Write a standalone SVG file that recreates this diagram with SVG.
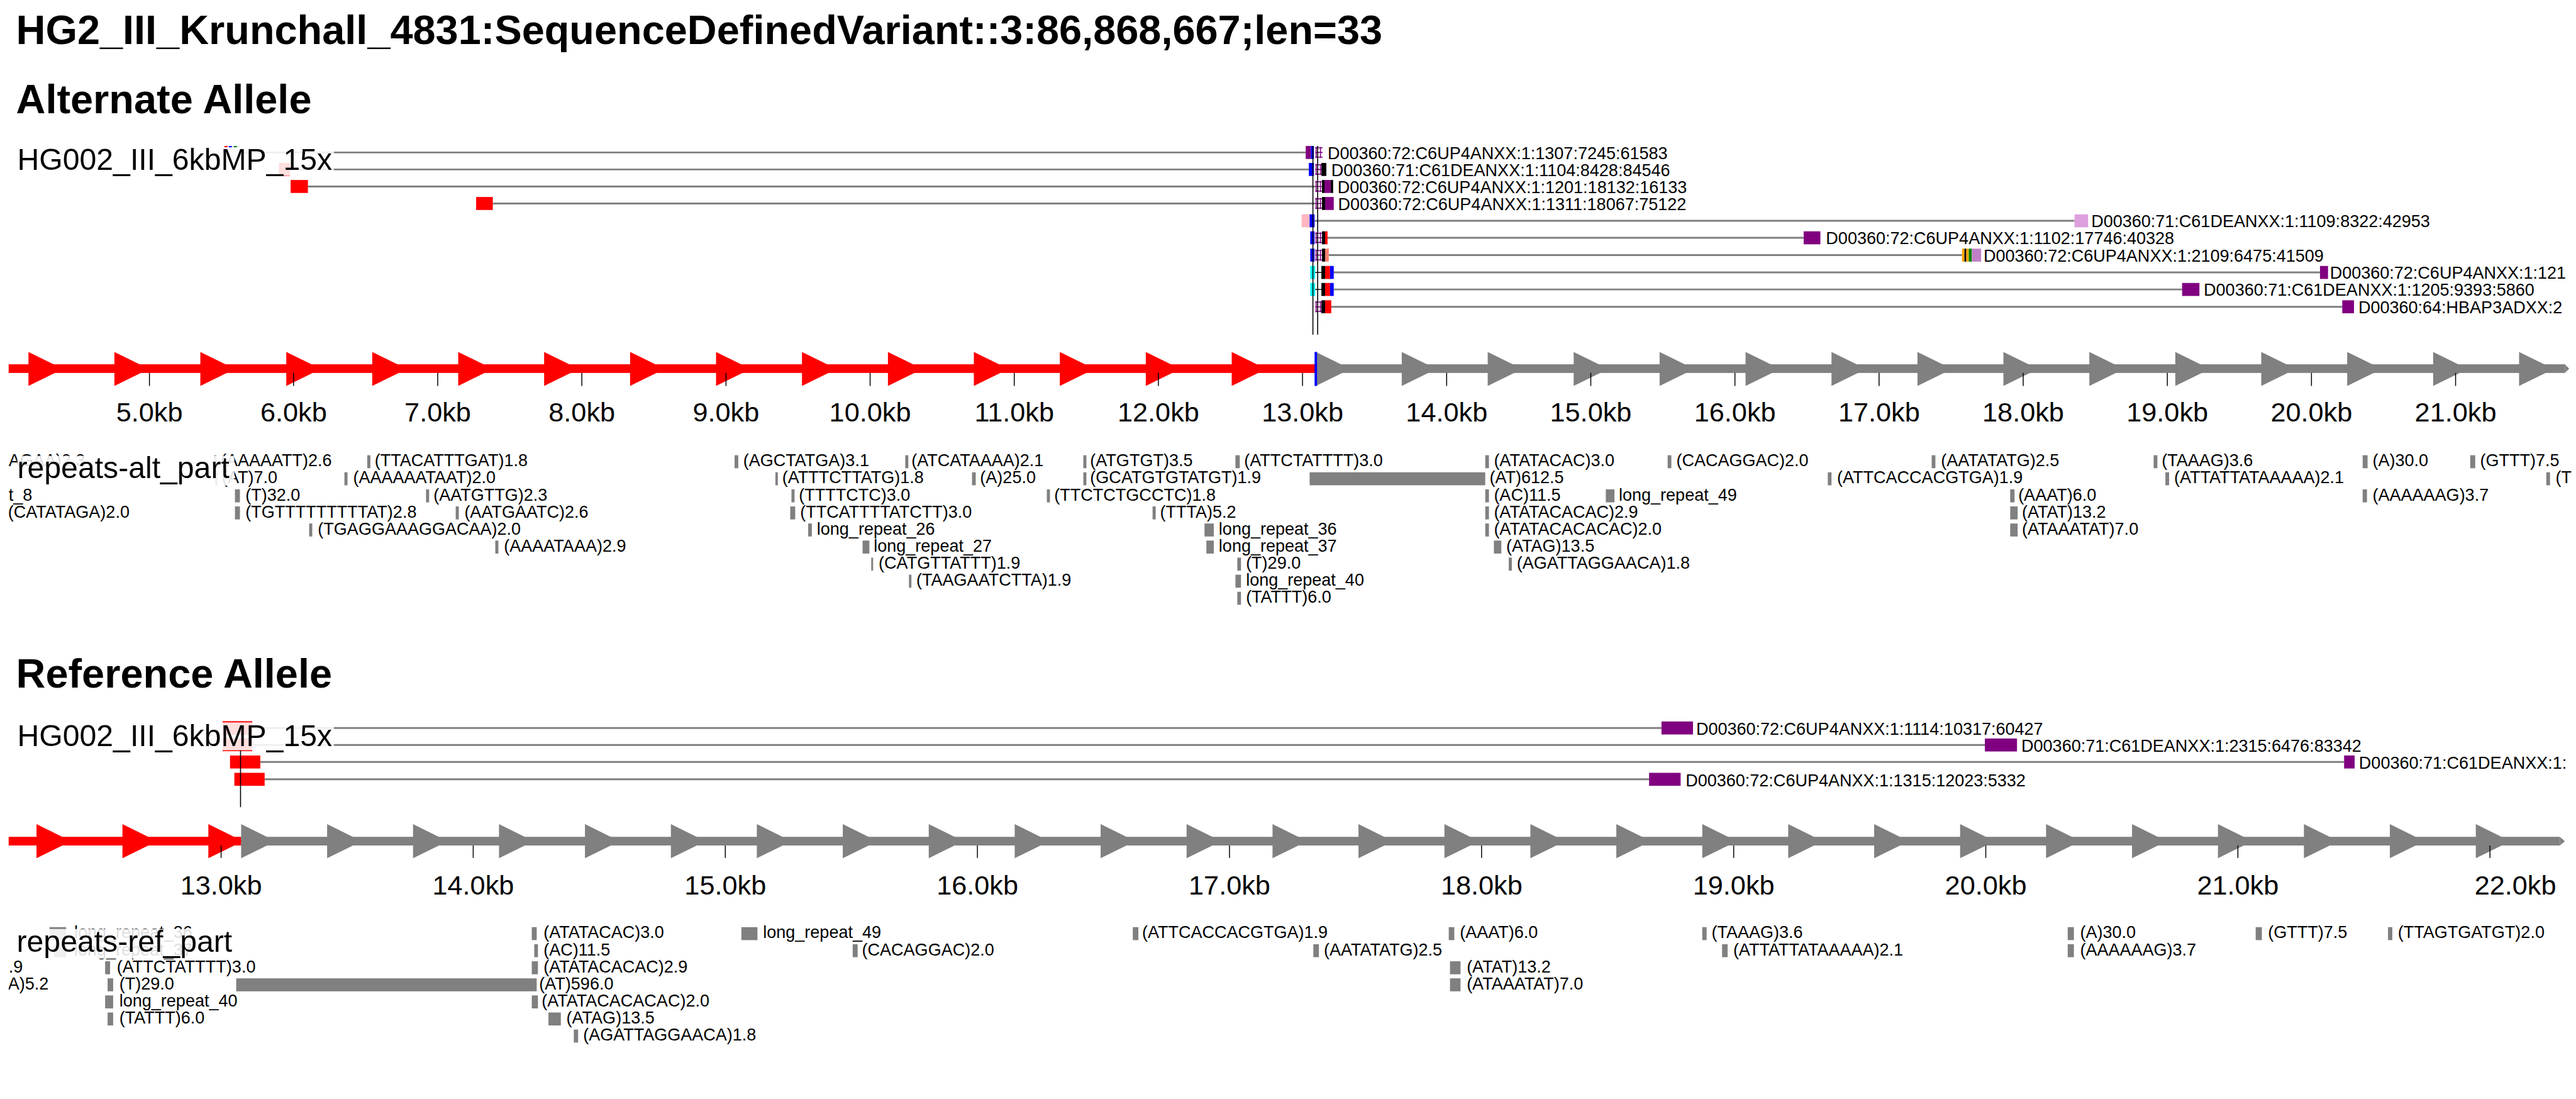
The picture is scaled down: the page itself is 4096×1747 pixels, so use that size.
<svg xmlns="http://www.w3.org/2000/svg" width="4096" height="1747" viewBox="0 0 4096 1747">
<defs>
<style>
text{font-family:"Liberation Sans",Arial,Helvetica,sans-serif;fill:#000}
.h{font-size:66px;font-weight:bold}
.lb{font-size:49px}
.s{font-size:27.5px}
.ax{font-size:44px;text-anchor:middle}
.ln{stroke:#808080;stroke-width:3;fill:none}
.rb{fill:#808080}
.tk{stroke:#000;stroke-width:1.5}
.vl{stroke:#000;stroke-width:1.6}
.bg{fill:#fff;fill-opacity:0.87}
.pu{fill:#800080}.bl{fill:#0000ff}.rd{fill:#ff0000}.bk{fill:#000}.cy{fill:#00ffff}
.red{fill:#ff0000}.gry{fill:#808080}
</style>
<g id="ins" fill="none" stroke="#800080" stroke-width="1.6"><path d="M1.5,-9V9M8.5,-9V9M0,-7.5H12M0,0H12M0,7.5H12"/></g>
<polygon id="tri" points="0,-27.5 56,0 0,27.5"/>
<clipPath id="clip"><rect x="14" y="0" width="4152" height="1777"/></clipPath>
</defs>
<g transform="scale(0.98319)">
<rect width="4166" height="1777" fill="#fff"/>
<g id="title"><text class="h" x="26" y="71">HG2_III_Krunchall_4831:SequenceDefinedVariant::3:86,868,667;len=33</text></g>

<!-- ================= ALTERNATE ================= -->
<g id="alt-header"><text class="h" x="26" y="183">Alternate Allele</text></g>

<g id="connectors">
<g id="alt-read-lines" class="ln">
<path d="M388,246.5H2112"/>
<path d="M469,274H2117"/>
<path d="M498,301.5H2127"/>
<path d="M797,329H2127"/>
<path d="M2126,357H3355"/>
<path d="M2147,384.5H2917"/>
<path d="M2149,412.5H3173"/>
<path d="M2157,440.5H3752"/>
<path d="M2157,468H3529"/>
<path d="M2153,496H3788"/>
</g>
<g id="ref-read-lines" class="ln">
<path d="M408,1177H2687"/>
<path d="M408,1204.5H3210"/>
<path d="M421,1232H3791"/>
<path d="M428,1260H2667"/>
</g>
</g>

<g id="alt-reads">
<g id="alt-read-1">
<rect x="362" y="236" width="26" height="21" fill="#e8e8e8"/>
<rect x="363" y="236" width="5" height="3" class="rd"/><rect x="370" y="236" width="5" height="3" class="bl"/><rect x="378" y="236" width="5" height="3" fill="#008000"/>
<rect x="2111.7" y="236" width="8.3" height="21" class="pu"/><rect x="2120" y="236" width="5" height="21" class="bl"/>
<use href="#ins" x="2127" y="246.5"/>
<text class="s" x="2147" y="257">D00360:72:C6UP4ANXX:1:1307:7245:61583</text>
</g>
<g id="alt-read-2">
<rect x="451" y="263.5" width="18" height="21" class="rd"/>
<rect x="2116.7" y="263.5" width="8.3" height="21" class="bl"/>
<use href="#ins" x="2127" y="274"/>
<rect x="2137" y="263.5" width="8" height="21" class="bk"/>
<text class="s" x="2153" y="284.5">D00360:71:C61DEANXX:1:1104:8428:84546</text>
</g>
<g id="alt-read-3">
<rect x="470" y="291" width="28" height="21" class="rd"/>
<use href="#ins" x="2127" y="301.5"/>
<rect x="2138" y="291" width="4" height="21" class="bk"/><rect x="2142" y="291" width="10" height="21" class="pu"/><rect x="2152" y="291" width="4" height="21" class="bk"/>
<text class="s" x="2163" y="312">D00360:72:C6UP4ANXX:1:1201:18132:16133</text>
</g>
<g id="alt-read-4">
<rect x="770" y="318.5" width="27" height="21" class="rd"/>
<use href="#ins" x="2127" y="329"/>
<rect x="2138" y="318.5" width="5" height="21" class="bk"/><rect x="2143" y="318.5" width="14" height="21" class="pu"/>
<text class="s" x="2164" y="339.5">D00360:72:C6UP4ANXX:1:1311:18067:75122</text>
</g>
<g id="alt-read-5">
<rect x="2105" y="346.5" width="13" height="21" fill="#ffb6c1"/><rect x="2118" y="346.5" width="8" height="21" class="bl"/>
<rect x="3355" y="346.5" width="22" height="21" fill="#dda0dd"/>
<text class="s" x="3382" y="367.5">D00360:71:C61DEANXX:1:1109:8322:42953</text>
</g>
<g id="alt-read-6">
<rect x="2119" y="374" width="7" height="21" class="bl"/>
<use href="#ins" x="2127" y="384.5"/>
<rect x="2138" y="374" width="5" height="21" class="bk"/><rect x="2143" y="374" width="4" height="21" class="rd"/>
<rect x="2917" y="374" width="27" height="21" class="pu"/>
<text class="s" x="2953" y="395">D00360:72:C6UP4ANXX:1:1102:17746:40328</text>
</g>
<g id="alt-read-7">
<rect x="2119" y="402" width="7" height="21" class="bl"/>
<use href="#ins" x="2127" y="412.5"/>
<rect x="2138" y="402" width="5" height="21" class="bk"/><rect x="2143" y="402" width="6" height="21" fill="#fa8072"/>
<rect x="3173" y="402" width="4" height="21" fill="#ffa500"/><rect x="3177" y="402" width="3" height="21" class="bk"/><rect x="3180" y="402" width="4" height="21" fill="#ffa500"/><rect x="3184" y="402" width="5" height="21" fill="#008000"/><rect x="3189" y="402" width="15" height="21" fill="#c080c8"/>
<text class="s" x="3208" y="423">D00360:72:C6UP4ANXX:1:2109:6475:41509</text>
</g>
<g id="alt-read-8">
<rect x="2119" y="430" width="8" height="21" class="cy"/>
<path d="M2127,440.5H2137" class="tk"/>
<rect x="2137" y="430" width="6" height="21" class="bk"/><rect x="2143" y="430" width="8" height="21" class="rd"/><rect x="2151" y="430" width="6" height="21" class="bl"/>
<rect x="3752" y="430" width="13" height="21" class="pu"/>
<text class="s" x="3768" y="451">D00360:72:C6UP4ANXX:1:121</text>
</g>
<g id="alt-read-9">
<rect x="2119" y="457.5" width="8" height="21" class="cy"/>
<path d="M2127,468H2137" class="tk"/>
<rect x="2137" y="457.5" width="6" height="21" class="bk"/><rect x="2143" y="457.5" width="8" height="21" class="rd"/><rect x="2151" y="457.5" width="6" height="21" class="bl"/>
<rect x="3529" y="457.5" width="28" height="21" class="pu"/>
<text class="s" x="3564" y="478.5">D00360:71:C61DEANXX:1:1205:9393:5860</text>
</g>
<g id="alt-read-10">
<use href="#ins" x="2127" y="496"/>
<rect x="2137" y="485.5" width="6" height="21" class="bk"/><rect x="2143" y="485.5" width="10" height="21" class="rd"/>
<rect x="3788" y="485.5" width="19" height="21" class="pu"/>
<text class="s" x="3814" y="506.5">D00360:64:HBAP3ADXX:2</text>
</g>
<g id="alt-variant-lines">
<path d="M2123.3,236V541M2131,236V541" class="vl"/>
</g>
</g>

<g id="alt-track-label">
<rect x="28" y="238" width="512" height="46" class="bg"/>
<text class="lb" x="28" y="275">HG002_III_6kbMP_15x</text>
</g>

<g id="alt-axis">
<rect x="14" y="589" width="2114" height="14" class="red"/>
<rect x="2128" y="589" width="2020" height="14" class="gry"/>
<polygon points="4148,589 4155,596 4148,603" class="gry"/>
<g class="red">
<use href="#tri" x="46" y="596.5"/><use href="#tri" x="185" y="596.5"/><use href="#tri" x="324" y="596.5"/><use href="#tri" x="463" y="596.5"/><use href="#tri" x="602" y="596.5"/><use href="#tri" x="741" y="596.5"/><use href="#tri" x="880" y="596.5"/><use href="#tri" x="1019" y="596.5"/><use href="#tri" x="1158" y="596.5"/><use href="#tri" x="1297" y="596.5"/><use href="#tri" x="1436" y="596.5"/><use href="#tri" x="1575" y="596.5"/><use href="#tri" x="1714" y="596.5"/><use href="#tri" x="1853" y="596.5"/><use href="#tri" x="1992" y="596.5"/>
</g>
<g class="gry">
<use href="#tri" x="2128" y="596.5"/><use href="#tri" x="2267" y="596.5"/><use href="#tri" x="2406" y="596.5"/><use href="#tri" x="2545" y="596.5"/><use href="#tri" x="2684" y="596.5"/><use href="#tri" x="2823" y="596.5"/><use href="#tri" x="2962" y="596.5"/><use href="#tri" x="3101" y="596.5"/><use href="#tri" x="3240" y="596.5"/><use href="#tri" x="3379" y="596.5"/><use href="#tri" x="3518" y="596.5"/><use href="#tri" x="3657" y="596.5"/><use href="#tri" x="3796" y="596.5"/><use href="#tri" x="3935" y="596.5"/><use href="#tri" x="4074" y="596.5"/>
</g>
<rect x="2126" y="569" width="4" height="55" class="bl"/>
<path class="tk" d="M241.7,603V624M474.8,603V624M707.9,603V624M941,603V624M1174.1,603V624M1407.2,603V624M1640.3,603V624M1873.4,603V624M2106.5,603V624M2339.6,603V624M2572.7,603V624M2805.8,603V624M3038.9,603V624M3272,603V624M3505.1,603V624M3738.2,603V624M3971.3,603V624"/>
<text class="ax" x="241.7" y="681">5.0kb</text><text class="ax" x="474.8" y="681">6.0kb</text><text class="ax" x="707.9" y="681">7.0kb</text><text class="ax" x="941" y="681">8.0kb</text><text class="ax" x="1174.1" y="681">9.0kb</text><text class="ax" x="1407.2" y="681">10.0kb</text><text class="ax" x="1640.3" y="681">11.0kb</text><text class="ax" x="1873.4" y="681">12.0kb</text><text class="ax" x="2106.5" y="681">13.0kb</text><text class="ax" x="2339.6" y="681">14.0kb</text><text class="ax" x="2572.7" y="681">15.0kb</text><text class="ax" x="2805.8" y="681">16.0kb</text><text class="ax" x="3038.9" y="681">17.0kb</text><text class="ax" x="3272" y="681">18.0kb</text><text class="ax" x="3505.1" y="681">19.0kb</text><text class="ax" x="3738.2" y="681">20.0kb</text><text class="ax" x="3971.3" y="681">21.0kb</text>
</g>

<g id="alt-repeats" clip-path="url(#clip)">
<g class="rb">
<rect x="346" y="736" width="4" height="21"/><rect x="594" y="736" width="5" height="21"/><rect x="1188" y="736" width="6" height="21"/><rect x="1464" y="736" width="5" height="21"/><rect x="1752" y="736" width="5" height="21"/><rect x="1998" y="736" width="7" height="21"/><rect x="2402" y="736" width="6" height="21"/><rect x="2697" y="736" width="6" height="21"/><rect x="3124" y="736" width="6" height="21"/><rect x="3483" y="736" width="6" height="21"/><rect x="3821" y="736" width="8" height="21"/><rect x="3995" y="736" width="8" height="21"/>
<rect x="348" y="763.6" width="4" height="21"/><rect x="557" y="763.6" width="5" height="21"/><rect x="1254" y="763.6" width="4" height="21"/><rect x="1572" y="763.6" width="6" height="21"/><rect x="1752" y="763.6" width="5" height="21"/><rect x="2118" y="763.6" width="284" height="21"/><rect x="2956" y="763.6" width="6" height="21"/><rect x="3502" y="763.6" width="6" height="21"/><rect x="4118" y="763.6" width="6" height="21"/>
<rect x="380" y="791.2" width="8" height="21"/><rect x="689" y="791.2" width="5" height="21"/><rect x="1280" y="791.2" width="5" height="21"/><rect x="1693" y="791.2" width="5" height="21"/><rect x="2402" y="791.2" width="6" height="21"/><rect x="2597" y="791.2" width="14" height="21"/><rect x="3251" y="791.2" width="7" height="21"/><rect x="3821" y="791.2" width="7" height="21"/>
<rect x="380" y="818.8" width="8" height="21"/><rect x="737" y="818.8" width="5" height="21"/><rect x="1278" y="818.8" width="8" height="21"/><rect x="1864" y="818.8" width="5" height="21"/><rect x="2402" y="818.8" width="6" height="21"/><rect x="3251" y="818.8" width="12" height="21"/>
<rect x="500" y="846.4" width="5" height="21"/><rect x="1307" y="846.4" width="6" height="21"/><rect x="1948" y="846.4" width="15" height="21"/><rect x="2402" y="846.4" width="6" height="21"/><rect x="3251" y="846.4" width="12" height="21"/>
<rect x="801" y="874" width="5" height="21"/><rect x="1395" y="874" width="11" height="21"/><rect x="1951" y="874" width="12" height="21"/><rect x="2416" y="874" width="12" height="21"/>
<rect x="1409" y="901.6" width="3" height="21"/><rect x="2001" y="901.6" width="6" height="21"/><rect x="2440" y="901.6" width="5" height="21"/>
<rect x="1470" y="929.2" width="4" height="21"/><rect x="1998" y="929.2" width="9" height="21"/>
<rect x="2001" y="956.8" width="6" height="21"/>
</g>
<g class="s-row">
<text class="s" x="14" y="754">AGAA)2.3</text>
<text class="s" x="357" y="754">(AAAAATT)2.6</text><text class="s" x="606" y="754">(TTACATTTGAT)1.8</text><text class="s" x="1202" y="754">(AGCTATGA)3.1</text><text class="s" x="1474" y="754">(ATCATAAAA)2.1</text><text class="s" x="1763" y="754">(ATGTGT)3.5</text><text class="s" x="2012" y="754">(ATTCTATTTT)3.0</text><text class="s" x="2416" y="754">(ATATACAC)3.0</text><text class="s" x="2711" y="754">(CACAGGAC)2.0</text><text class="s" x="3139" y="754">(AATATATG)2.5</text><text class="s" x="3496" y="754">(TAAAG)3.6</text><text class="s" x="3837" y="754">(A)30.0</text><text class="s" x="4011" y="754">(GTTT)7.5</text>
<text class="s" x="359" y="781.6">(AT)7.0</text><text class="s" x="571" y="781.6">(AAAAAATAAT)2.0</text><text class="s" x="1265" y="781.6">(ATTTCTTATG)1.8</text><text class="s" x="1585" y="781.6">(A)25.0</text><text class="s" x="1763" y="781.6">(GCATGTGTATGT)1.9</text><text class="s" x="2409" y="781.6">(AT)612.5</text><text class="s" x="2971" y="781.6">(ATTCACCACGTGA)1.9</text><text class="s" x="3516" y="781.6">(ATTATTATAAAAA)2.1</text><text class="s" x="4133" y="781.6">(T</text>
<text class="s" x="14" y="809.2">t_8</text><text class="s" x="397" y="809.2">(T)32.0</text><text class="s" x="701" y="809.2">(AATGTTG)2.3</text><text class="s" x="1292" y="809.2">(TTTTCTC)3.0</text><text class="s" x="1705" y="809.2">(TTCTCTGCCTC)1.8</text><text class="s" x="2416" y="809.2">(AC)11.5</text><text class="s" x="2618" y="809.2">long_repeat_49</text><text class="s" x="3264" y="809.2">(AAAT)6.0</text><text class="s" x="3837" y="809.2">(AAAAAAG)3.7</text>
<text class="s" x="13" y="836.8">(CATATAGA)2.0</text><text class="s" x="397" y="836.8">(TGTTTTTTTTTAT)2.8</text><text class="s" x="751" y="836.8">(AATGAATC)2.6</text><text class="s" x="1294" y="836.8">(TTCATTTTATCTT)3.0</text><text class="s" x="1876" y="836.8">(TTTA)5.2</text><text class="s" x="2416" y="836.8">(ATATACACAC)2.9</text><text class="s" x="3270" y="836.8">(ATAT)13.2</text>
<text class="s" x="514" y="864.4">(TGAGGAAAGGACAA)2.0</text><text class="s" x="1321" y="864.4">long_repeat_26</text><text class="s" x="1971" y="864.4">long_repeat_36</text><text class="s" x="2416" y="864.4">(ATATACACACAC)2.0</text><text class="s" x="3270" y="864.4">(ATAAATAT)7.0</text>
<text class="s" x="815" y="892">(AAAATAAA)2.9</text><text class="s" x="1413" y="892">long_repeat_27</text><text class="s" x="1971" y="892">long_repeat_37</text><text class="s" x="2436" y="892">(ATAG)13.5</text>
<text class="s" x="1421" y="919.6">(CATGTTATTT)1.9</text><text class="s" x="2015" y="919.6">(T)29.0</text><text class="s" x="2453" y="919.6">(AGATTAGGAACA)1.8</text>
<text class="s" x="1482" y="947.2">(TAAGAATCTTA)1.9</text><text class="s" x="2015" y="947.2">long_repeat_40</text>
<text class="s" x="2015" y="974.8">(TATTT)6.0</text>
</g>
</g>
<g id="alt-repeats-label">
<rect x="28" y="737" width="351" height="48" class="bg"/>
<text class="lb" x="28" y="773">repeats-alt_part</text>
</g>

<!-- ================= REFERENCE ================= -->
<g id="ref-header"><text class="h" x="26" y="1112">Reference Allele</text></g>

<g id="ref-reads">
<g id="ref-read-1">
<rect x="360" y="1166" width="48" height="22" class="rd"/>
<rect x="2687" y="1166.5" width="51" height="21" class="pu"/>
<text class="s" x="2743" y="1188">D00360:72:C6UP4ANXX:1:1114:10317:60427</text>
</g>
<g id="ref-read-2">
<rect x="360" y="1193.5" width="48" height="21" class="rd"/>
<rect x="3210" y="1194" width="52" height="21" class="pu"/>
<text class="s" x="3269" y="1215.5">D00360:71:C61DEANXX:1:2315:6476:83342</text>
</g>
<g id="ref-read-3">
<rect x="372" y="1221.5" width="49" height="21" class="rd"/>
<rect x="3791" y="1221.5" width="17" height="21" class="pu"/>
<text class="s" x="3815" y="1243">D00360:71:C61DEANXX:1:</text>
</g>
<g id="ref-read-4">
<rect x="379" y="1249.5" width="49" height="21" class="rd"/>
<rect x="2667" y="1249.5" width="51" height="21" class="pu"/>
<text class="s" x="2726" y="1271">D00360:72:C6UP4ANXX:1:1315:12023:5332</text>
</g>
<path d="M389,1213V1305" class="vl"/>
</g>
<g id="ref-track-label">
<rect x="28" y="1168" width="512" height="45" class="bg"/>
<text class="lb" x="28" y="1206">HG002_III_6kbMP_15x</text>
</g>

<g id="ref-axis">
<rect x="14" y="1353" width="376" height="14" class="red"/>
<rect x="390" y="1353" width="3750" height="14" class="gry"/>
<polygon points="4140,1353 4148,1360 4140,1367" class="gry"/>
<g class="red"><use href="#tri" x="59" y="1360"/><use href="#tri" x="198" y="1360"/><use href="#tri" x="337" y="1360"/></g>
<g class="gry">
<use href="#tri" x="390" y="1360"/><use href="#tri" x="529" y="1360"/><use href="#tri" x="668" y="1360"/><use href="#tri" x="807" y="1360"/><use href="#tri" x="946" y="1360"/><use href="#tri" x="1085" y="1360"/><use href="#tri" x="1224" y="1360"/><use href="#tri" x="1363" y="1360"/><use href="#tri" x="1502" y="1360"/><use href="#tri" x="1641" y="1360"/><use href="#tri" x="1780" y="1360"/><use href="#tri" x="1919" y="1360"/><use href="#tri" x="2058" y="1360"/><use href="#tri" x="2197" y="1360"/><use href="#tri" x="2336" y="1360"/><use href="#tri" x="2475" y="1360"/><use href="#tri" x="2614" y="1360"/><use href="#tri" x="2753" y="1360"/><use href="#tri" x="2892" y="1360"/><use href="#tri" x="3031" y="1360"/><use href="#tri" x="3170" y="1360"/><use href="#tri" x="3309" y="1360"/><use href="#tri" x="3448" y="1360"/><use href="#tri" x="3587" y="1360"/><use href="#tri" x="3726" y="1360"/><use href="#tri" x="3865" y="1360"/><use href="#tri" x="4004" y="1360"/>
</g>
<path class="tk" d="M357.6,1367V1387M765.3,1367V1387M1173,1367V1387M1580.7,1367V1387M1988.4,1367V1387M2396.1,1367V1387M2803.8,1367V1387M3211.5,1367V1387M3619.2,1367V1387M4026.9,1367V1387"/>
<text class="ax" x="357.6" y="1446.5">13.0kb</text><text class="ax" x="765.3" y="1446.5">14.0kb</text><text class="ax" x="1173" y="1446.5">15.0kb</text><text class="ax" x="1580.7" y="1446.5">16.0kb</text><text class="ax" x="1988.4" y="1446.5">17.0kb</text><text class="ax" x="2396.1" y="1446.5">18.0kb</text><text class="ax" x="2803.8" y="1446.5">19.0kb</text><text class="ax" x="3211.5" y="1446.5">20.0kb</text><text class="ax" x="3619.2" y="1446.5">21.0kb</text><text class="ax" x="4068" y="1446.5">22.0kb</text>
</g>

<g id="ref-repeats" clip-path="url(#clip)">
<g class="rb">
<rect x="80" y="1499" width="27" height="21"/><rect x="860" y="1499" width="8" height="21"/><rect x="1199" y="1499" width="26" height="21"/><rect x="1832" y="1499" width="9" height="21"/><rect x="2343" y="1499" width="9" height="21"/><rect x="2753" y="1499" width="7" height="21"/><rect x="3344" y="1499" width="10" height="21"/><rect x="3648" y="1499" width="10" height="21"/><rect x="3862" y="1499" width="7" height="21"/>
<rect x="87" y="1526.6" width="20" height="21"/><rect x="864" y="1526.6" width="6" height="21"/><rect x="1379" y="1526.6" width="8" height="21"/><rect x="2124" y="1526.6" width="9" height="21"/><rect x="2785" y="1526.6" width="9" height="21"/><rect x="3344" y="1526.6" width="10" height="21"/>
<rect x="170" y="1554.2" width="8" height="21"/><rect x="860" y="1554.2" width="10" height="21"/><rect x="2345" y="1554.2" width="17" height="21"/>
<rect x="174" y="1581.8" width="9" height="21"/><rect x="382" y="1581.8" width="486" height="21"/><rect x="2345" y="1581.8" width="17" height="21"/>
<rect x="170" y="1609.4" width="13" height="21"/><rect x="860" y="1609.4" width="10" height="21"/>
<rect x="174" y="1637" width="9" height="21"/><rect x="887" y="1637" width="20" height="21"/>
<rect x="928" y="1664.6" width="7" height="21"/>
</g>
<g>
<text class="s" x="120" y="1517">long_repeat_36</text><text class="s" x="879" y="1517">(ATATACAC)3.0</text><text class="s" x="1234" y="1517">long_repeat_49</text><text class="s" x="1847" y="1517">(ATTCACCACGTGA)1.9</text><text class="s" x="2361" y="1517">(AAAT)6.0</text><text class="s" x="2768" y="1517">(TAAAG)3.6</text><text class="s" x="3364" y="1517">(A)30.0</text><text class="s" x="3668" y="1517">(GTTT)7.5</text><text class="s" x="3878" y="1517">(TTAGTGATGT)2.0</text>
<text class="s" x="120" y="1544.6">long_repeat_37</text><text class="s" x="879" y="1544.6">(AC)11.5</text><text class="s" x="1394" y="1544.6">(CACAGGAC)2.0</text><text class="s" x="2141" y="1544.6">(AATATATG)2.5</text><text class="s" x="2803" y="1544.6">(ATTATTATAAAAA)2.1</text><text class="s" x="3364" y="1544.6">(AAAAAAG)3.7</text>
<text class="s" x="14" y="1572.2">.9</text><text class="s" x="189" y="1572.2">(ATTCTATTTT)3.0</text><text class="s" x="879" y="1572.2">(ATATACACAC)2.9</text><text class="s" x="2372" y="1572.2">(ATAT)13.2</text>
<text class="s" x="13" y="1599.8">A)5.2</text><text class="s" x="193" y="1599.8">(T)29.0</text><text class="s" x="872" y="1599.8">(AT)596.0</text><text class="s" x="2372" y="1599.8">(ATAAATAT)7.0</text>
<text class="s" x="193" y="1627.4">long_repeat_40</text><text class="s" x="876" y="1627.4">(ATATACACACAC)2.0</text>
<text class="s" x="193" y="1655">(TATTT)6.0</text><text class="s" x="916" y="1655">(ATAG)13.5</text>
<text class="s" x="943" y="1682.6">(AGATTAGGAACA)1.8</text>
</g>
</g>
<g id="ref-repeats-label">
<rect x="27" y="1502" width="350" height="48" class="bg"/>
<text class="lb" x="27" y="1539">repeats-ref_part</text>
</g>
</g>
</svg>
